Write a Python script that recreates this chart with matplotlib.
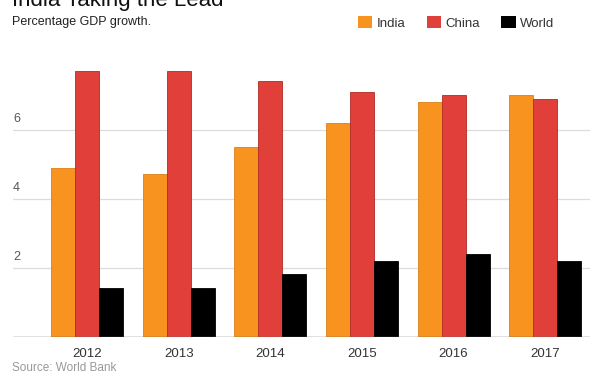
import numpy as np
import matplotlib
matplotlib.use("Agg")
import matplotlib.pyplot as plt
from matplotlib.patches import Patch

plt.rcParams['font.family'] = ['Liberation Sans', 'DejaVu Sans']

# Data (percentage GDP growth)
years = ['2012', '2013', '2014', '2015', '2016', '2017']
india = [4.9, 4.7, 5.5, 6.2, 6.8, 7.0]
china = [7.7, 7.7, 7.4, 7.1, 7.0, 6.9]
world = [1.4, 1.4, 1.8, 2.2, 2.4, 2.2]
yticks = [2, 4, 6]

c_india = '#f7931e'
c_china = '#e1403a'
c_world = '#000000'

fig = plt.figure(figsize=(5.9, 3.74), dpi=100)
ax = fig.add_axes([0.022, 0.100, 0.978, 0.738])

x = np.arange(len(years))
w = 0.262
ax.bar(x - w, india, w, color=c_india, edgecolor='#d9801a', linewidth=0.6, zorder=3)
ax.bar(x, china, w, color=c_china, edgecolor='#b02a25', linewidth=0.6, zorder=3)
ax.bar(x + w, world, w, color=c_world, edgecolor='#000000', linewidth=0.6, zorder=3)

ax.set_xlim(-0.81, 5.49)
ax.set_ylim(0, 8)

# gridlines and y labels sitting above them
for t in yticks:
    ax.axhline(t, color='#dcdcdc', linewidth=0.9, zorder=1)
    ax.text(0.0, t + 0.13, str(t), transform=ax.get_yaxis_transform(),
            fontsize=9, color='#555555', ha='left', va='bottom')
ax.axhline(0, color='#666666', linewidth=1.0, zorder=4)

ax.set_yticks([])
ax.set_xticks(x)
ax.set_xticklabels(years, fontsize=9.5, color='#333333')
ax.tick_params(axis='x', length=0, pad=8)
for s in ax.spines.values():
    s.set_visible(False)

# titles
fig.text(0.02, 1 - 6 / 374, 'India Taking the Lead', fontsize=16,
         color='#111111', ha='left', va='baseline')
fig.text(0.02, 1 - 25 / 374, 'Percentage GDP growth.', fontsize=9,
         color='#222222', ha='left', va='baseline')
fig.text(0.02, 1 - 371 / 374, 'Source: World Bank', fontsize=8.5,
         color='#999999', ha='left', va='baseline')

handles = [Patch(facecolor=c_india, edgecolor='none', label='India'),
           Patch(facecolor=c_china, edgecolor='none', label='China'),
           Patch(facecolor=c_world, edgecolor='none', label='World')]
leg = fig.legend(handles=handles, loc='upper left', bbox_to_anchor=(0.597, 0.972),
                 ncol=3, frameon=False, fontsize=9.5, handlelength=1.1, handleheight=1.1,
                 handletextpad=0.35, columnspacing=1.6, borderaxespad=0)
for t in leg.get_texts():
    t.set_color('#333333')

fig.savefig('out.png', dpi=100)
